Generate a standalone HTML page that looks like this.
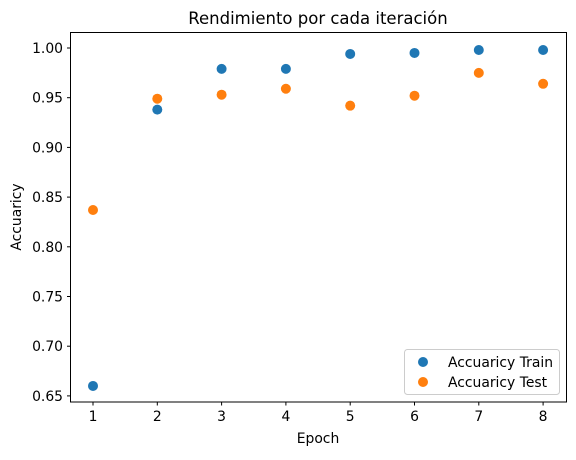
<!DOCTYPE html>
<html><head><meta charset="utf-8"><style>
body{margin:0;background:#fff}
text{font-family:"DejaVu Sans","Liberation Sans",sans-serif;fill:#000}
</style></head><body>
<svg id="chart" width="576" height="455" xmlns="http://www.w3.org/2000/svg">
<text x="318" y="24" font-size="16.5" text-anchor="middle">Rendimiento por cada iteración</text>
<rect x="70.5" y="32.5" width="496" height="369.5" fill="none" stroke="#000" stroke-width="1"/>
<g id="xt"></g>
<g id="yt"></g>
<g id="pts"></g>
<text x="318" y="443" font-size="13.9" text-anchor="middle">Epoch</text>
<text transform="translate(21,217) rotate(-90)" font-size="13.9" text-anchor="middle">Accuaricy</text>
<g>
<rect x="404.5" y="349.5" width="155" height="45" rx="3" fill="#fff" fill-opacity="0.8" stroke="#ccc"/>
<circle cx="423" cy="362" r="5" fill="#1f77b4"/>
<text x="448" y="367" font-size="13.9">Accuaricy Train</text>
<circle cx="423" cy="382" r="5" fill="#ff7f0e"/>
<text x="448" y="387" font-size="13.9">Accuaricy Test</text>
</g>
</svg>
<script>
const epochs=[1,2,3,4,5,6,7,8];
const trainAcc=[0.660,0.938,0.979,0.979,0.994,0.995,0.998,0.998];
const testAcc=[0.837,0.949,0.953,0.959,0.942,0.952,0.975,0.964];
const yTicks=[0.65,0.70,0.75,0.80,0.85,0.90,0.95,1.00];
const xTicks=[1,2,3,4,5,6,7,8];
const NS="http://www.w3.org/2000/svg";
function sx(v){return 93+(v-1)*64.3;}
function sy(v){return 48+(1-v)/0.05*49.7;}
function mk(t,a){const e=document.createElementNS(NS,t);for(const k in a)e.setAttribute(k,a[k]);return e;}
const xt=document.getElementById('xt'),yt=document.getElementById('yt'),pts=document.getElementById('pts');
xTicks.forEach(v=>{const x=sx(v);
const l=mk('line',{x1:x,x2:x,y1:402,y2:405.5,stroke:'#000'});

xt.appendChild(l);
const t=mk('text',{x:x,y:421,'font-size':13.9,'text-anchor':'middle'});t.textContent=v;

xt.appendChild(t);});
yTicks.forEach(v=>{const y=sy(v);
const l=mk('line',{x1:67,x2:70.5,y1:y,y2:y,stroke:'#000'});

yt.appendChild(l);
const t=mk('text',{x:63,y:y+5,'font-size':13.9,'text-anchor':'end'});t.textContent=v.toFixed(2);

yt.appendChild(t);});
function series(arr,col,name){arr.forEach((v,i)=>{const c=mk('circle',{cx:sx(epochs[i]),cy:sy(v),r:5,fill:col});

pts.appendChild(c);});}
series(trainAcc,'#1f77b4','train-point');
series(testAcc,'#ff7f0e','test-point');
</script>
</body></html>
